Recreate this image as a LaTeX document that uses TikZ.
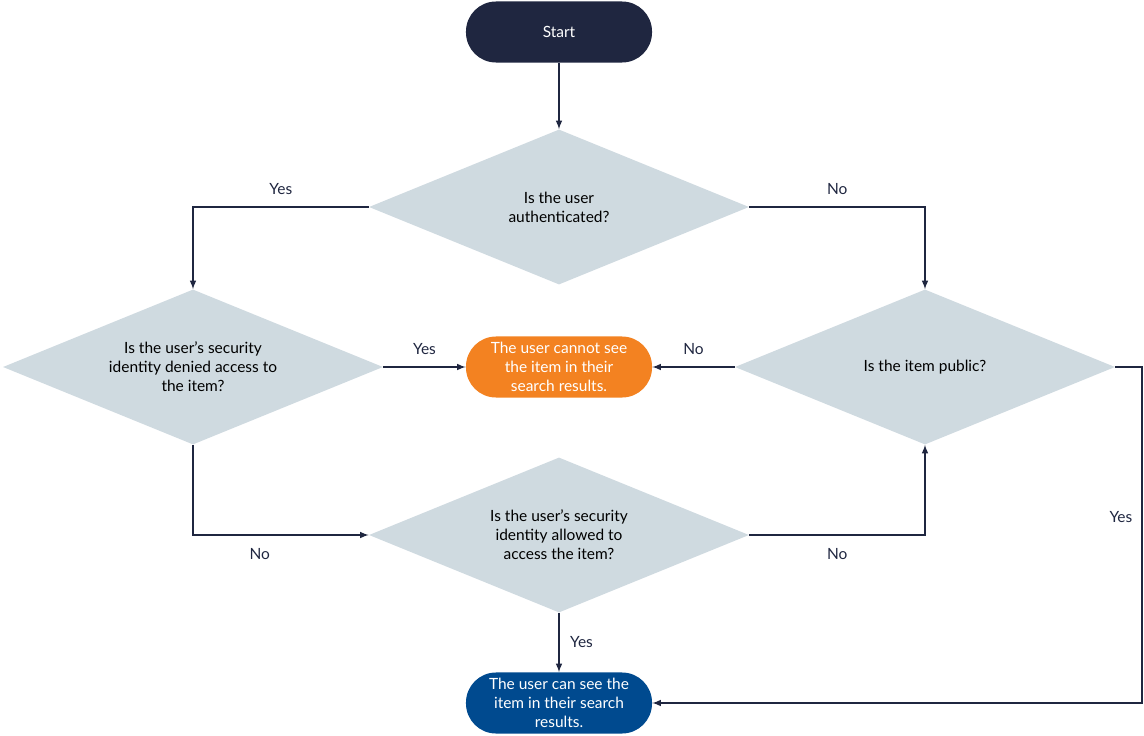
\documentclass[tikz,border=0pt]{standalone}
\usepackage{fontspec}
\setmainfont{Lato}
\usetikzlibrary{shapes.geometric}

\definecolor{navy}{RGB}{31,38,64}
\definecolor{slate}{RGB}{207,218,224}
\definecolor{flame}{RGB}{243,130,33}
\definecolor{royal}{RGB}{0,74,143}

\tikzset{
	terminal/.style = {rectangle, rounded corners = 0.75cm, minimum width = 4.65cm, minimum height = 1.525cm, align = center, text = white, font = \fontsize{11}{13.5}\selectfont, inner sep = 0},
	decision/.style = {diamond, fill = slate, minimum width = 9.5cm, minimum height = 3.875cm, aspect = 2.45, inner sep = 0, align = center, font = \fontsize{11}{13.5}\selectfont},
	flow/.style = {->, navy, line width = 1.1pt},
	answer/.style = {font = \fontsize{11}{12}\selectfont}
}

\begin{document}
\begin{tikzpicture}[> = latex, x = 0.025cm, y = -0.025cm]

	\useasboundingbox (0, 0) rectangle (1144, 736);

	% Start and the two outcomes
	
	\node [terminal, fill = navy] (start) at (559, 32) {Start};
	\node [terminal, fill = flame] (hidden) at (559, 367) {The user cannot see\\the item in their\\search results.};
	\node [terminal, fill = royal] (shown) at (559, 703) {The user can see the\\item in their search\\results.};
	
	% Questions
	
	\node [decision] (auth) at (559, 207) {Is the user\\authenticated?};
	\node [decision] (denied) at (193, 367) {Is the user’s security\\identity denied access to\\the item?};
	\node [decision] (public) at (925, 367) {Is the item public?};
	\node [decision] (allowed) at (559, 535) {Is the user’s security\\identity allowed to\\access the item?};
	
	% Turning points
	
	\coordinate (pubout) at (1142, 367);
	
	% Connectors
	
	\begin{scope}[flow]
	
		\draw (start) -- (auth);
		
		\draw (auth.west) -| node [answer, pos = 0.25, above = 5pt] {Yes} (denied.north);
		\draw (auth.east) -| node [answer, pos = 0.25, above = 5pt] {No} (public.north);
		
		\draw (denied.east) -- node [answer, above = 5pt] {Yes} (hidden.west);
		\draw (public.west) -- node [answer, above = 5pt] {No} (hidden.east);
		
		\draw (denied.south) |- node [answer, pos = 0.69, below = 6pt] {No} (allowed.west);
		\draw (allowed.east) -| node [answer, pos = 0.25, below = 6pt] {No} (public.south);
		
		\draw (allowed.south) -- node [answer, right = 4pt] {Yes} (shown.north);
		\draw (public.east) -- (pubout) |- node [answer, pos = 0.223, left = 3pt] {Yes} (shown.east);

	\end{scope}

\end{tikzpicture}
\end{document}
